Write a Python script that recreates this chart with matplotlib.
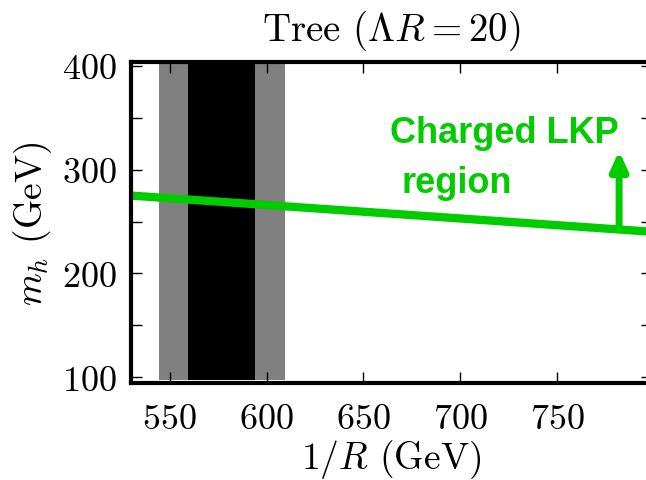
import numpy as np
import matplotlib.pyplot as plt
from matplotlib.ticker import MultipleLocator

plt.rcParams['font.family'] = 'serif'
plt.rcParams['font.serif'] = ['cmr10']
plt.rcParams['mathtext.fontset'] = 'cm'
plt.rcParams['axes.unicode_minus'] = False
plt.rcParams['axes.formatter.use_mathtext'] = True

# Bandes d'exclusion en 1/R (GeV)
bande_large = (544.5, 609.5)
bande_etroite = (559.5, 594.0)
bande_y = (97, 402)

# Limite de la région LKP chargé : m_h en fonction de 1/R
ligne_x = [530, 800]
ligne_y = [275, 240]

# Flèche vers la région chargée
fleche_x = 782
fleche_y = (244, 318)

vert = '#00cc00'

fig = plt.figure(figsize=(6.46, 4.81), dpi=100)
ax = fig.add_axes([0.2028, 0.2017, 0.8065, 0.667])

ax.fill_between(bande_large, bande_y[0], bande_y[1], color='#808080', lw=0, zorder=1)
ax.fill_between(bande_etroite, bande_y[0], bande_y[1], color='black', lw=0, zorder=2)

ax.plot(ligne_x, ligne_y, color=vert, lw=6, solid_capstyle='butt', zorder=3)
ax.annotate('', xy=(fleche_x, fleche_y[1]), xytext=(fleche_x, fleche_y[0]),
            arrowprops=dict(arrowstyle='-|>,head_length=1.1,head_width=0.5',
                            color=vert, lw=5, shrinkA=0, shrinkB=0),
            zorder=3)

ax.text(0.497, 0.78, 'Charged LKP', transform=ax.transAxes, color=vert,
        fontsize=26, fontweight='bold', family='Liberation Sans',
        ha='left', va='center')
ax.text(0.626, 0.626, 'region', transform=ax.transAxes, color=vert,
        fontsize=26, fontweight='bold', family='Liberation Sans',
        ha='center', va='center')

ax.set_xlim(530, 799)
ax.set_ylim(94.5, 403.5)
ax.xaxis.set_major_locator(MultipleLocator(50))
ax.yaxis.set_major_locator(MultipleLocator(100))
ax.yaxis.set_minor_locator(MultipleLocator(50))

ax.tick_params(which='both', direction='in', top=True, right=True,
               length=8, width=1, labelsize=26)
ax.tick_params(axis='x', pad=15)
ax.tick_params(axis='y', pad=10)
for s in ax.spines.values():
    s.set_linewidth(3)
    s.set_zorder(5)

ax.set_title(r'Tree $(\Lambda R = 20)$', fontsize=28, pad=16)
ax.set_xlabel(r'$1/R$ (GeV)', fontsize=27, labelpad=1)
ax.set_ylabel(r'$m_h$ (GeV)', fontsize=27, labelpad=6)

fig.savefig('out.png', dpi=100)
